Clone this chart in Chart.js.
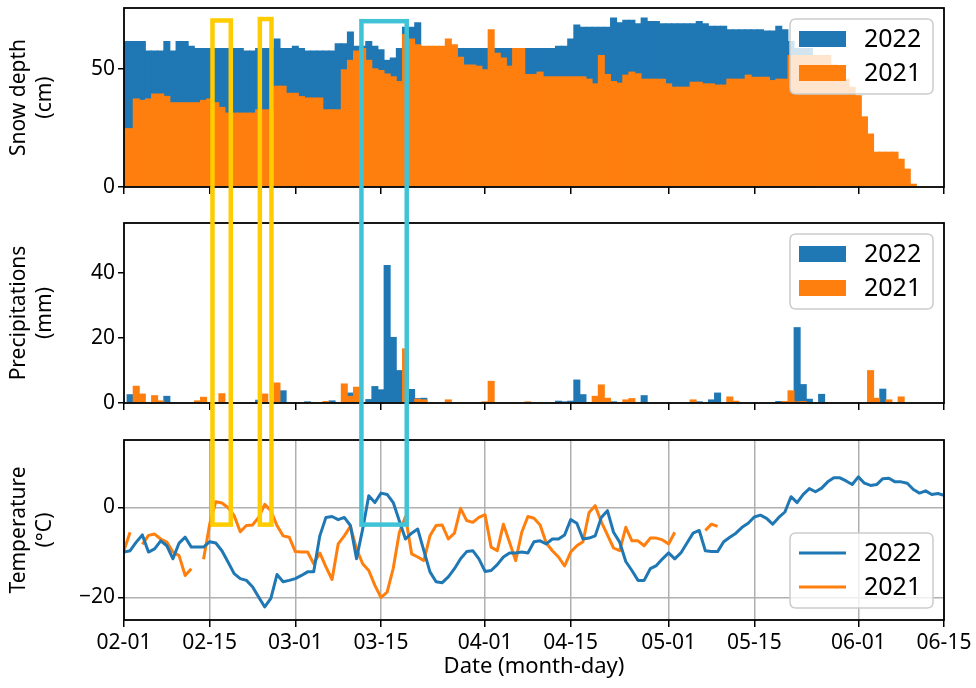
<!DOCTYPE html>
<html>
<head>
<meta charset="utf-8">
<script src="https://cdn.jsdelivr.net/npm/chart.js@4.4.0/dist/chart.umd.min.js"></script>
<style>
body { margin: 0; background: #fff; }
#wrap { position: relative; width: 976px; height: 688px; }
#wrap canvas { position: absolute; left: 0; }
</style>
</head>
<body>
<div id="wrap">
  <canvas id="snow" width="976" height="196" style="top:0px"></canvas>
  <canvas id="precip" width="976" height="212" style="top:200px"></canvas>
  <canvas id="temp" width="976" height="268" style="top:420px"></canvas>
  <canvas id="boxes" width="976" height="688" style="top:0px;pointer-events:none"></canvas>
</div>
<script>
// days counted from 02-01 (day 0) to 06-15 (day 134)
var dayIndex = [];
for (var d = 0; d <= 134; d++) dayIndex.push(d);

var tickDays = [0, 14, 28, 42, 59, 73, 89, 103, 120, 134];
var tickLabels = ['02-01', '02-15', '03-01', '03-15', '04-01', '04-15', '05-01', '05-15', '06-01', '06-15'];

var snowTicks = [0, 50];
var precipTicks = [0, 20, 40];
var tempTicks = [-20, 0];
var tempTickLabels = ['\u221220', '0'];

var years = ['2022', '2021'];

// snow depth (cm)
var snow2022 = [
  62, 62, 62, 62, 58, 58, 58, 62, 58, 62,
  62, 60, 59, 59, 59, 59, 59, 59, 59, 59,
  58, 58, 59, 59, 59, 63, 59, 59, 60, 59,
  58, 58, 58, 58, 58, 61, 61, 66, 60, 60,
  62, 60, 58.5, 54, 55, 59, 68, 68, 70, 59,
  59, 59, 59, 59, 59, 59, 59, 59, 59, 59,
  59, 59, 59, 59, 59, 59, 59, 59, 59, 59,
  59, 60, 60, 63, 69, 68, 68, 68, 68, 68,
  72, 70, 71, 71, 69.5, 72, 70.5, 70.5, 69.5, 69.5,
  69.5, 69.5, 69.5, 69.5, 70.5, 69.5, 68.5, 68.5, 68.5, 67,
  67, 67, 67, 67, 67, 66.5, 66.5, 68.5, 67, 62,
  59, 59, 59, 55, 0, 0, 0, 0, 0, 0,
  0, 0, 0, 0, 0, 0, 0, 0, 0, 0,
  0, 0, 0, 0, 0
];
var snow2021 = [
  25, 25, 37.6, 37, 37.6, 39.7, 39.7, 38.7, 36, 36,
  36, 36, 36, 37, 37.6, 36, 34, 31.6, 31.6, 31.6,
  31.6, 31.6, 33, 33, 33, 43, 43, 40, 40, 38.6,
  38, 38, 38, 33, 33, 33, 50, 54, 58, 59,
  54, 50.4, 49.7, 48.2, 47, 45, 65, 63, 60.6, 60,
  60, 60, 60, 63, 60.6, 55.3, 52, 52, 51.5, 50,
  67, 57, 55, 51.5, 59, 59, 48, 48, 49, 47,
  47, 47, 47, 47, 47, 47, 46, 44, 56, 48,
  45, 44.3, 47.7, 49, 48.3, 46, 46, 46, 46, 44,
  42.6, 42.6, 42.6, 44.7, 44.7, 44, 44, 43.5, 43.5, 46,
  46, 46, 47.7, 46.8, 46.8, 46.8, 45.4, 46, 46, 56,
  56, 56, 56, 56, 56, 56, 52, 49, 46, 42.6,
  39, 30, 22.7, 15, 15, 15, 15, 12, 7.8, 1.4,
  0, 0, 0, 0, 0
];

// precipitation (mm)
var precip2022 = [
  0, 2.7, 0, 0, 0, 0, 0, 2.2, 0, 0,
  0, 0, 0, 0, 0, 0, 0, 0, 0, 0,
  0, 0, 1.0, 0, 0, 0, 3.9, 0, 0.2, 0,
  0.5, 0, 0, 0, 0.8, 0, 0, 3.2, 0, 0,
  1.2, 5.2, 4.2, 42.4, 20.3, 10.1, 0, 4.3, 1.5, 1.6,
  0, 0, 0, 0, 0, 0, 0, 0, 0, 0,
  0, 0, 0, 0, 0, 0, 0, 0, 0, 0,
  0, 0.7, 0.5, 0.7, 7.2, 2.7, 0.3, 0, 0, 0,
  0.5, 0, 0, 0, 0, 2.4, 0, 0, 0, 0,
  0, 0, 0, 0, 0.5, 0, 1.1, 3.2, 0, 0,
  0, 0, 0, 0, 0, 0, 0, 0.6, 0, 0,
  23.3, 5.8, 1.3, 0, 2.8, 0, 0, 0, 0, 0,
  0, 0, 0, 0, 4.4, 0, 0, 0, 0, 0,
  0, 0, 0, 0, 0
];
var precip2021 = [
  0, 0, 5.3, 2.9, 0, 2.4, 0.8, 0, 0, 0.2,
  0, 0, 0.8, 1.9, 0, 0, 3.0, 0, 0, 0,
  0, 0, 0, 2.9, 0, 6.3, 0, 0, 0, 0,
  0, 0, 0.3, 0.6, 0, 0, 6.0, 2.2, 5.0, 0,
  0.2, 0, 0, 0, 0, 0, 16.8, 0, 1.3, 1.1,
  0, 0, 0, 1.1, 0, 0, 0, 0, 0, 0.5,
  6.8, 0, 0, 0, 0, 0, 0.5, 0, 0, 0,
  0, 0, 0, 0, 0, 0, 0, 2.2, 5.7, 1.6,
  0, 0, 1.1, 1.5, 0, 0, 0, 0, 0, 0,
  0, 0, 0, 1.1, 0, 0, 0, 0, 0, 2.0,
  0.7, 0, 0, 0, 0.2, 0, 0, 0, 0.6, 3.9,
  0.5, 0.6, 0, 0, 0, 0, 0, 0, 0, 0,
  0, 0, 10.1, 1.6, 0, 1.1, 0, 2.0, 0, 0,
  0.2, 0, 0, 0, 0
];

// mean air temperature (degC)
var temp2022 = [
  -9.9, -9.6, -7.7, -6.1, -9.9, -9.2, -7.4, -8.5, -11.4, -7.9,
  -6.6, -8.8, -8.8, -8.8, -7.6, -7.9, -9.6, -12.1, -14.7, -15.8,
  -16.2, -17.6, -19.9, -22.1, -20.2, -14.9, -16.5, -16.2, -15.8, -15.1,
  -14.3, -14.3, -6.3, -2.2, -2.0, -2.7, -2.2, -4.0, -11.4, -4.8,
  2.6, 1.1, 3.2, 2.9, 1.1, -3.0, -7.0, -5.7, -4.8, -9.6,
  -14.3, -16.5, -16.7, -15.4, -13.6, -11.4, -9.8, -9.6, -11.4, -14.2,
  -14.0, -12.7, -11.0, -10.1, -10.1, -9.9, -10.1, -7.6, -7.4, -8.1,
  -7.0, -7.0, -6.1, -2.7, -3.5, -7.0, -6.8, -6.3, -2.2, -0.7,
  -5.5, -7.7, -12.0, -14.0, -16.2, -16.2, -13.6, -12.9, -11.4, -10.1,
  -11.4, -10.1, -7.9, -5.7, -5.1, -9.6, -9.8, -9.8, -7.6, -6.6,
  -5.7, -4.4, -3.5, -2.1, -1.7, -2.4, -3.7, -2.2, -1.0, 2.4,
  1.1, 2.9, 4.2, 3.5, 4.3, 5.7, 6.6, 6.6, 5.9, 5.1,
  6.8, 5.4, 4.9, 5.1, 6.4, 6.5, 5.7, 5.7, 5.4, 4.0,
  3.2, 3.7, 2.9, 3.1, 2.7
];
var temp2021 = [
  -9.5, -5.5, null, -8.2, -6.2, -5.9, -7.0, -7.7, -9.9, -10.7,
  -15.1, -13.6, null, -11.5, -3.7, 1.3, 1.0, 0.0, -1.8, -5.4,
  -4.0, -3.9, -2.2, 0.7, -0.7, -4.0, -6.3, -6.6, -9.8, -9.9,
  -9.9, -12.5, -10.1, -13.2, -16.0, -8.1, -6.3, -4.2, -9.2, -12.5,
  -14.0, -17.3, -20.0, -18.8, -13.5, -5.5, -2.0, -10.3, -11.0, -11.8,
  -6.3, -4.0, -3.9, -7.0, -5.7, -0.2, -2.9, -3.3, -2.2, -1.6,
  -8.8, -9.6, -3.7, -7.7, -11.8, -5.5, -2.0, -2.4, -3.9, -7.9,
  -9.6, -11.0, -13.0, -9.9, -8.5, -7.6, -1.1, 0.4, -3.2, -6.1,
  -9.0, -9.6, -4.4, -7.4, -7.4, -8.5, -6.8, -6.8, -7.2, -8.1,
  -5.5, null, null, null, null, -5.1, -3.7, -4.2, null, null,
  null, null, null, null, null, null, null, null, null, null,
  null, null, null, null, null, null, null, null, null, null,
  null, null, null, null, null, null, null, null, null, null,
  null, null, null, null, null
];

// highlighted periods (days from 02-01), drawn across the three panels
var highlightSpans = [
  { from: 14.46, to: 17.45, top: 70.7, color: '#ffcc00' },
  { from: 22.2, to: 24.1, top: 71.3, color: '#ffcc00' },
  { from: 38.8, to: 46.2, top: 70.4, color: '#41c3d7' }
];
var highlightBottom = -3.8;

var BLUE = '#1f77b4';
var ORANGE = '#ff7f0e';
var FONT = "'Noto Sans', 'DejaVu Sans', sans-serif";
var TICK_SIZE = 21;

Chart.defaults.font.family = FONT;
Chart.defaults.color = '#000';

function roundedRect(ctx, x, y, w, h, r) {
  ctx.beginPath();
  ctx.moveTo(x + r, y);
  ctx.lineTo(x + w - r, y);
  ctx.quadraticCurveTo(x + w, y, x + w, y + r);
  ctx.lineTo(x + w, y + h - r);
  ctx.quadraticCurveTo(x + w, y + h, x + w - r, y + h);
  ctx.lineTo(x + r, y + h);
  ctx.quadraticCurveTo(x, y + h, x, y + h - r);
  ctx.lineTo(x, y + r);
  ctx.quadraticCurveTo(x, y, x + r, y);
  ctx.closePath();
}

var framePlugin = {
  id: 'frame',
  afterDraw: function (chart) {
    var a = chart.chartArea, ctx = chart.ctx;
    ctx.save();
    ctx.strokeStyle = '#000';
    ctx.lineWidth = 1.8;
    ctx.strokeRect(a.left, a.top, a.right - a.left, a.bottom - a.top);
    ctx.restore();
  }
};

var boxLegend = {
  id: 'boxLegend',
  afterDraw: function (chart, args, opts) {
    var a = chart.chartArea, ctx = chart.ctx;
    var w = 143, h = 75;
    var left = a.right - 11 - w;
    var top = opts.where === 'bottom' ? a.bottom - 12 - h : a.top + 11;
    ctx.save();
    roundedRect(ctx, left, top, w, h, 6);
    ctx.fillStyle = 'rgba(255,255,255,0.8)';
    ctx.fill();
    ctx.strokeStyle = '#cccccc';
    ctx.lineWidth = 1.5;
    ctx.stroke();
    chart.data.datasets.forEach(function (ds, i) {
      var y = top + 20 + i * 34;
      if (opts.kind === 'line') {
        ctx.strokeStyle = ds.borderColor;
        ctx.lineWidth = 3;
        ctx.beginPath();
        ctx.moveTo(left + 9, y);
        ctx.lineTo(left + 56, y);
        ctx.stroke();
      } else {
        ctx.fillStyle = ds.backgroundColor;
        ctx.fillRect(left + 9, y - 8, 47, 16);
      }
      ctx.fillStyle = '#000';
      ctx.font = '25px ' + FONT;
      ctx.textBaseline = 'middle';
      ctx.textAlign = 'left';
      ctx.fillText(ds.label, left + 74, y + 1);
    });
    ctx.restore();
  }
};

function xScale(height, showLabels, grid) {
  return {
    type: 'linear',
    min: 0,
    max: 134,
    offset: false,
    afterBuildTicks: function (s) { s.ticks = tickDays.map(function (v) { return { value: v }; }); },
    afterFit: function (s) { s.height = height; s.paddingLeft = 0; s.paddingRight = 0; },
    border: { display: false },
    grid: {
      offset: false,
      drawOnChartArea: grid,
      color: '#b0b0b0',
      lineWidth: 1.5,
      tickLength: 7,
      tickColor: '#000',
      tickWidth: 1.5
    },
    ticks: {
      display: showLabels,
      autoSkip: false,
      maxRotation: 0,
      padding: 3,
      color: '#000',
      font: { family: FONT, size: TICK_SIZE },
      callback: function (v) { return tickLabels[tickDays.indexOf(v)]; }
    },
    title: showLabels ? {
      display: true,
      text: 'Date (month-day)',
      color: '#000',
      font: { family: FONT, size: 22 },
      padding: { top: 0, bottom: 8 }
    } : { display: false }
  };
}

function yScale(min, max, values, labels, title, grid) {
  return {
    min: min,
    max: max,
    afterBuildTicks: function (s) { s.ticks = values.map(function (v) { return { value: v }; }); },
    afterFit: function (s) { s.width = 124; s.paddingTop = 0; s.paddingBottom = 0; },
    border: { display: false },
    grid: {
      drawOnChartArea: grid,
      color: '#b0b0b0',
      lineWidth: 1.5,
      tickLength: 6,
      tickColor: '#000',
      tickWidth: 1.5
    },
    ticks: {
      padding: 3,
      color: '#000',
      font: { family: FONT, size: TICK_SIZE },
      callback: function (v) { return labels[values.indexOf(v)]; }
    },
    title: {
      display: true,
      text: title,
      color: '#000',
      font: { family: FONT, size: TICK_SIZE, lineHeight: 1.25 },
      padding: { top: 6, bottom: 0 }
    }
  };
}

function barSet(label, values, color, order) {
  return {
    label: label,
    data: values,
    backgroundColor: color,
    borderWidth: 0,
    inflateAmount: 0,
    barPercentage: 1.15,
    categoryPercentage: 1,
    grouped: false,
    clip: 0,
    order: order
  };
}

var snowChart = new Chart(document.getElementById('snow'), {
  type: 'bar',
  data: {
    labels: dayIndex,
    datasets: [
      barSet(years[0], snow2022, BLUE, 1),
      barSet(years[1], snow2021, ORANGE, 0)
    ]
  },
  options: {
    responsive: false,
    animation: false,
    layout: { padding: { left: 0, right: 32, top: 8, bottom: 0 } },
    plugins: { legend: { display: false }, tooltip: { enabled: false }, boxLegend: { kind: 'bar', where: 'top' } },
    scales: {
      x: xScale(9, false, false),
      y: yScale(0, 76, snowTicks, ['0', '50'], ['Snow depth', '(cm)'], false)
    }
  },
  plugins: [framePlugin, boxLegend]
});

var precipChart = new Chart(document.getElementById('precip'), {
  type: 'bar',
  data: {
    labels: dayIndex,
    datasets: [
      barSet(years[0], precip2022, BLUE, 1),
      barSet(years[1], precip2021, ORANGE, 0)
    ]
  },
  options: {
    responsive: false,
    animation: false,
    layout: { padding: { left: 0, right: 32, top: 23, bottom: 0 } },
    plugins: { legend: { display: false }, tooltip: { enabled: false }, boxLegend: { kind: 'bar', where: 'top' } },
    scales: {
      x: xScale(9, false, false),
      y: yScale(0, 55.3, precipTicks, ['0', '20', '40'], ['Precipitations', '(mm)'], false)
    }
  },
  plugins: [framePlugin, boxLegend]
});

var tempChart = new Chart(document.getElementById('temp'), {
  type: 'line',
  data: {
    labels: dayIndex,
    datasets: [
      { label: years[0], data: temp2022, borderColor: BLUE, borderWidth: 3, pointRadius: 0, spanGaps: false, borderJoinStyle: 'round' },
      { label: years[1], data: temp2021, borderColor: ORANGE, borderWidth: 3, pointRadius: 0, spanGaps: false, borderJoinStyle: 'round' }
    ]
  },
  options: {
    responsive: false,
    animation: false,
    layout: { padding: { left: 0, right: 32, top: 20, bottom: 0 } },
    plugins: { legend: { display: false }, tooltip: { enabled: false }, boxLegend: { kind: 'line', where: 'bottom' } },
    scales: {
      x: xScale(68, true, true),
      y: yScale(-25, 15, tempTicks, tempTickLabels, ['Temperature', '(\u00b0C)'], true)
    }
  },
  plugins: [framePlugin, boxLegend]
});

// outline the highlighted periods over all three panels
(function drawHighlights() {
  var ov = document.getElementById('boxes').getContext('2d');
  var snowTop = document.getElementById('snow').offsetTop;
  var tempTop = document.getElementById('temp').offsetTop;
  var sx = snowChart.scales.x, sy = snowChart.scales.y, ty = tempChart.scales.y;
  var bottomY = ty.getPixelForValue(highlightBottom) + tempTop;
  highlightSpans.forEach(function (h) {
    var x0 = sx.getPixelForValue(h.from);
    var x1 = sx.getPixelForValue(h.to);
    var y0 = sy.getPixelForValue(h.top) + snowTop;
    ov.strokeStyle = h.color;
    ov.lineWidth = 4.5;
    ov.strokeRect(x0, y0, x1 - x0, bottomY - y0);
  });
})();
</script>
</body>
</html>
